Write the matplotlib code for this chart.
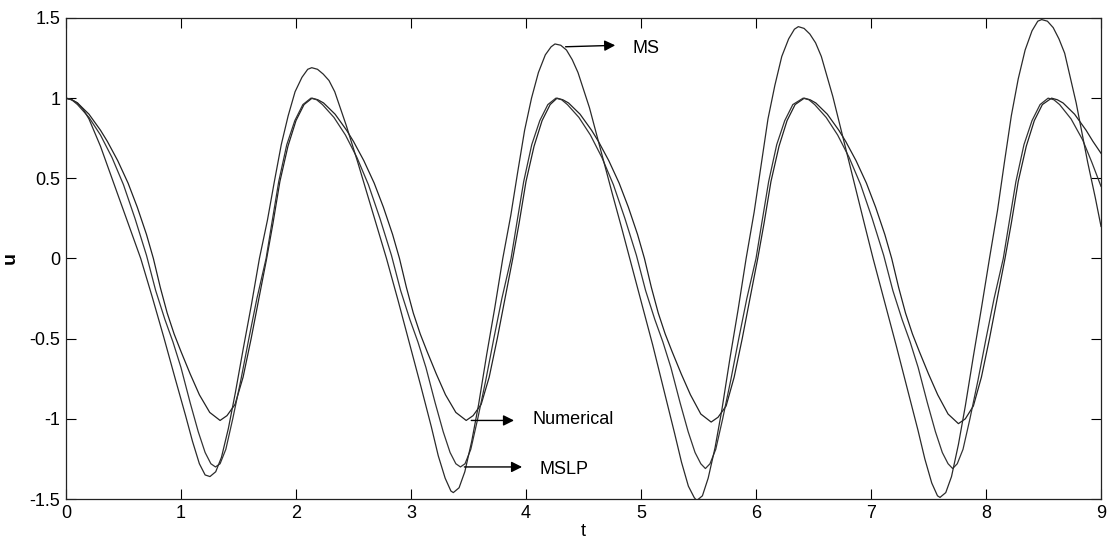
import matplotlib
matplotlib.use("Agg")
import matplotlib.pyplot as plt

plt.rcParams['font.family'] = ['Liberation Sans', 'DejaVu Sans']

# Numerical solution
t_num = [0.00, 0.05, 0.10, 0.20, 0.30, 0.36, 0.45, 0.54, 0.62, 0.70, 0.76, 0.82, 0.88, 0.94, 1.00,
         1.08, 1.16, 1.25, 1.34, 1.40, 1.47, 1.54, 1.61, 1.68, 1.745, 1.80, 1.86, 1.93, 2.00, 2.07,
         2.14, 2.19, 2.24, 2.34, 2.44, 2.50, 2.59, 2.68, 2.76, 2.84, 2.90, 2.96, 3.02, 3.08, 3.14,
         3.22, 3.30, 3.39, 3.48, 3.54, 3.61, 3.68, 3.75, 3.82, 3.885, 3.94, 4.00, 4.07, 4.14, 4.21,
         4.27, 4.32, 4.37, 4.47, 4.57, 4.63, 4.72, 4.81, 4.89, 4.97, 5.03, 5.09, 5.15, 5.21, 5.27,
         5.35, 5.43, 5.52, 5.61, 5.67, 5.74, 5.81, 5.88, 5.95, 6.015, 6.07, 6.13, 6.20, 6.27, 6.34,
         6.42, 6.47, 6.52, 6.62, 6.72, 6.78, 6.87, 6.96, 7.04, 7.12, 7.18, 7.24, 7.30, 7.36, 7.42,
         7.50, 7.58, 7.67, 7.76, 7.82, 7.89, 7.96, 8.03, 8.10, 8.165, 8.22, 8.28, 8.35, 8.42, 8.49,
         8.57, 8.62, 8.67, 8.77, 8.87, 8.93, 9.00]
u_num = [1.00, 0.99, 0.97, 0.90, 0.80, 0.73, 0.61, 0.47, 0.32, 0.15, 0.00, -0.18, -0.34, -0.47, -0.58,
         -0.72, -0.85, -0.96, -1.01, -0.98, -0.91, -0.74, -0.50, -0.24, 0.00, 0.22, 0.48, 0.70, 0.86, 0.96,
         1.00, 0.99, 0.97, 0.90, 0.80, 0.73, 0.61, 0.47, 0.32, 0.15, 0.00, -0.18, -0.34, -0.47, -0.58,
         -0.72, -0.85, -0.96, -1.01, -0.98, -0.91, -0.74, -0.50, -0.24, 0.00, 0.22, 0.48, 0.70, 0.86, 0.96,
         1.00, 0.99, 0.97, 0.90, 0.80, 0.73, 0.61, 0.47, 0.32, 0.15, 0.00, -0.18, -0.34, -0.47, -0.58,
         -0.72, -0.85, -0.97, -1.02, -0.99, -0.92, -0.74, -0.50, -0.24, 0.00, 0.22, 0.48, 0.70, 0.86, 0.96,
         1.00, 0.99, 0.97, 0.90, 0.80, 0.73, 0.61, 0.47, 0.32, 0.15, 0.00, -0.18, -0.34, -0.47, -0.58,
         -0.72, -0.85, -0.97, -1.03, -1.00, -0.92, -0.74, -0.50, -0.24, 0.00, 0.22, 0.48, 0.70, 0.86, 0.96,
         1.00, 0.99, 0.97, 0.90, 0.80, 0.73, 0.656]

# MSLP
t_mslp = [0.00, 0.05, 0.10, 0.20, 0.30, 0.40, 0.50, 0.60, 0.70, 0.78, 0.86, 0.93, 1.00, 1.08, 1.15,
          1.21, 1.26, 1.30, 1.34, 1.39, 1.45, 1.52, 1.59, 1.66, 1.74, 1.79, 1.85, 1.92, 1.99, 2.06,
          2.13, 2.18, 2.23, 2.33, 2.43, 2.53, 2.63, 2.73, 2.83, 2.91, 2.99, 3.06, 3.13, 3.21, 3.28,
          3.34, 3.39, 3.43, 3.47, 3.52, 3.58, 3.65, 3.72, 3.79, 3.87, 3.92, 3.98, 4.05, 4.12, 4.19,
          4.26, 4.31, 4.36, 4.46, 4.56, 4.66, 4.76, 4.86, 4.96, 5.04, 5.12, 5.19, 5.26, 5.34, 5.41,
          5.47, 5.52, 5.56, 5.60, 5.65, 5.71, 5.78, 5.85, 5.92, 6.00, 6.05, 6.11, 6.18, 6.25, 6.32,
          6.41, 6.46, 6.51, 6.61, 6.71, 6.81, 6.91, 7.01, 7.11, 7.19, 7.27, 7.34, 7.41, 7.49, 7.56,
          7.62, 7.67, 7.71, 7.75, 7.80, 7.86, 7.93, 8.00, 8.07, 8.15, 8.20, 8.26, 8.33, 8.40, 8.47,
          8.54, 8.59, 8.64, 8.74, 8.84, 8.92, 9.00]
u_mslp = [1.00, 0.99, 0.96, 0.88, 0.77, 0.63, 0.46, 0.25, 0.02, -0.20, -0.38, -0.52, -0.68, -0.90, -1.08,
          -1.21, -1.28, -1.30, -1.28, -1.19, -1.00, -0.76, -0.50, -0.25, 0.00, 0.22, 0.48, 0.71, 0.86, 0.96,
          1.00, 0.99, 0.96, 0.88, 0.77, 0.63, 0.46, 0.25, 0.02, -0.20, -0.38, -0.52, -0.68, -0.90, -1.08,
          -1.21, -1.28, -1.30, -1.28, -1.19, -1.00, -0.76, -0.50, -0.25, 0.00, 0.22, 0.48, 0.71, 0.86, 0.96,
          1.00, 0.99, 0.96, 0.88, 0.77, 0.63, 0.46, 0.25, 0.02, -0.20, -0.38, -0.52, -0.68, -0.90, -1.08,
          -1.21, -1.28, -1.31, -1.28, -1.19, -1.00, -0.76, -0.50, -0.25, 0.00, 0.22, 0.48, 0.71, 0.86, 0.96,
          1.00, 0.99, 0.96, 0.88, 0.77, 0.63, 0.46, 0.25, 0.02, -0.20, -0.38, -0.52, -0.68, -0.90, -1.08,
          -1.21, -1.28, -1.31, -1.28, -1.19, -1.00, -0.76, -0.50, -0.25, 0.00, 0.22, 0.48, 0.71, 0.86, 0.96,
          1.00, 0.99, 0.96, 0.87, 0.74, 0.60, 0.45]

# MS
t_ms = [0.00, 0.05, 0.10, 0.15, 0.20, 0.30, 0.40, 0.50, 0.58, 0.65, 0.75, 0.85, 0.95, 1.04, 1.10,
        1.16, 1.21, 1.252,
        1.302, 1.352, 1.412, 1.472, 1.542, 1.612, 1.682, 1.752, 1.812, 1.872, 1.932, 1.992, 2.052, 2.102,
        2.137, 2.187, 2.237, 2.287, 2.337, 2.437, 2.537, 2.637, 2.717, 2.787, 2.887, 2.987, 3.087, 3.177,
        3.237, 3.297, 3.347, 3.368,
        3.418, 3.468, 3.528, 3.588, 3.658, 3.728, 3.798, 3.868, 3.928, 3.988, 4.048, 4.108, 4.168, 4.218,
        4.252, 4.302, 4.352, 4.402, 4.452, 4.552, 4.652, 4.752, 4.832, 4.902, 5.002, 5.102, 5.202, 5.292,
        5.352, 5.412, 5.462, 5.484,
        5.534, 5.584, 5.644, 5.704, 5.774, 5.844, 5.914, 5.984, 6.044, 6.104, 6.164, 6.224, 6.284, 6.334,
        6.368, 6.418, 6.468, 6.518, 6.568, 6.668, 6.768, 6.868, 6.948, 7.018, 7.118, 7.218, 7.318, 7.408,
        7.468, 7.528, 7.578, 7.600,
        7.65, 7.70, 7.76, 7.82, 7.89, 7.96, 8.03, 8.10, 8.16, 8.22, 8.28, 8.34, 8.40, 8.45,
        8.484, 8.534, 8.584, 8.634, 8.684, 8.784, 8.884, 8.95, 9.00]
u_ms = [1.00, 0.99, 0.97, 0.93, 0.87, 0.70, 0.50, 0.30, 0.14, 0.00, -0.24, -0.49, -0.75, -0.98, -1.14,
        -1.28, -1.35, -1.36,
        -1.33, -1.24, -1.06, -0.84, -0.56, -0.29, 0.00, 0.24, 0.48, 0.71, 0.89, 1.04, 1.13, 1.18,
        1.19, 1.18, 1.15, 1.11, 1.04, 0.83, 0.60, 0.36, 0.17, 0.00, -0.26, -0.53, -0.80, -1.05,
        -1.23, -1.37, -1.45, -1.46,
        -1.43, -1.33, -1.14, -0.91, -0.60, -0.31, 0.00, 0.27, 0.54, 0.80, 1.00, 1.16, 1.27, 1.32,
        1.338, 1.33, 1.30, 1.24, 1.16, 0.94, 0.67, 0.40, 0.19, 0.00, -0.27, -0.54, -0.83, -1.09,
        -1.27, -1.42, -1.49, -1.51,
        -1.48, -1.37, -1.18, -0.94, -0.62, -0.32, 0.00, 0.29, 0.58, 0.87, 1.08, 1.26, 1.37, 1.43,
        1.446, 1.435, 1.40, 1.345, 1.26, 1.01, 0.72, 0.43, 0.20, 0.00, -0.27, -0.54, -0.82, -1.07,
        -1.25, -1.40, -1.48, -1.49,
        -1.46, -1.36, -1.16, -0.92, -0.61, -0.31, 0.00, 0.30, 0.60, 0.89, 1.12, 1.30, 1.42, 1.48,
        1.49, 1.48, 1.44, 1.37, 1.28, 0.97, 0.60, 0.38, 0.20]

xticks = [0, 1, 2, 3, 4, 5, 6, 7, 8, 9]
yticks = [-1.5, -1, -0.5, 0, 0.5, 1, 1.5]
ytick_labels = ['-1.5', '-1', '-0.5', '0', '0.5', '1', '1.5']

fig = plt.figure(figsize=(11.07, 5.40), dpi=100)
ax = fig.add_axes([0.0596, 0.0759, 0.935, 0.8908])

ax.plot(t_num, u_num, color='#222222', lw=0.9)
ax.plot(t_mslp, u_mslp, color='#333333', lw=0.9)
ax.plot(t_ms, u_ms, color='#2a2a2a', lw=0.9)

ax.set_xlim(0, 9)
ax.set_ylim(-1.5, 1.5)
ax.set_xticks(xticks)
ax.set_yticks(yticks)
ax.set_yticklabels(ytick_labels)
ax.tick_params(direction='in', length=7, width=0.8, top=True, right=True,
               labelsize=13, pad=4)
for s in ax.spines.values():
    s.set_linewidth(0.9)
    s.set_color('#222222')

ax.set_xlabel('t', fontsize=13, labelpad=1)
ax.set_ylabel('u', fontsize=14, fontweight='bold', labelpad=8)

# arrows with labels
arrow = dict(arrowstyle='-|>', color='k', lw=1.0, mutation_scale=16)
ax.annotate('', xy=(4.80, 1.33), xytext=(4.32, 1.32), arrowprops=arrow)
ax.text(4.93, 1.31, 'MS', fontsize=13, va='center', ha='left')
ax.annotate('', xy=(3.92, -1.01), xytext=(3.50, -1.01), arrowprops=arrow)
ax.text(4.055, -1.007, 'Numerical', fontsize=13, va='center', ha='left')
ax.annotate('', xy=(3.99, -1.30), xytext=(3.44, -1.30), arrowprops=arrow)
ax.text(4.115, -1.313, 'MSLP', fontsize=13, va='center', ha='left')

fig.savefig('out.png', dpi=100)
